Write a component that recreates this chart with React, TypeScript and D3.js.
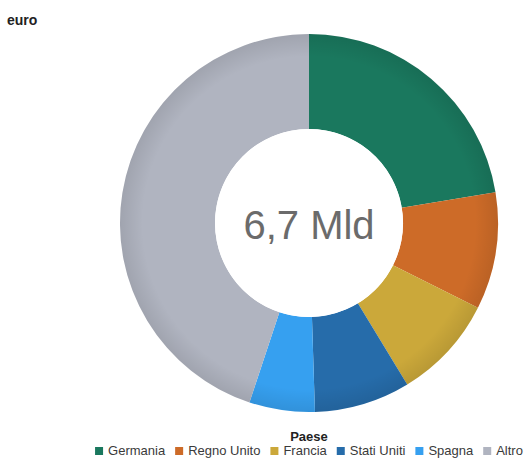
import React from "react";
import * as d3 from "d3";

const categories = ["Germania", "Regno Unito", "Francia", "Stati Uniti", "Spagna", "Altro"];
const values = [22.4, 10.0, 8.9, 8.2, 5.6, 44.9];
const colors = ["#1a785e", "#cd6b28", "#cba83a", "#266caa", "#36a0f0", "#b0b4c0"];
const unitLabel = "euro";
const centerLabel = "6,7 Mld";
const legendTitle = "Paese";

const W = 528;
const H = 458;
const FONT = "Arial, 'Liberation Sans', Helvetica, sans-serif";

function measure(text: string, font: string): number {
  if (typeof document === "undefined") return text.length * 7;
  const c = document.createElement("canvas");
  const ctx = c.getContext("2d");
  if (!ctx) return text.length * 7;
  ctx.font = font;
  return ctx.measureText(text).width;
}

export default function App() {
  const cx = 309;
  const cy = 223;
  const outerR = 189;
  const innerR = 94;

  const pie = d3.pie<number>().sort(null).value((d) => d);
  const arcs = pie(values);
  const arcGen = d3.arc<d3.PieArcDatum<number>>().innerRadius(innerR).outerRadius(outerR);

  const legendFont = `13px ${FONT}`;
  const sq = 8;
  const sqGap = 5;
  const itemGap = 10;
  const widths = categories.map((c) => measure(c, legendFont));
  const total = widths.reduce((a, w) => a + sq + sqGap + w, 0) + itemGap * (categories.length - 1);
  let x0 = cx - total / 2;
  const items = categories.map((c, i) => {
    const x = x0;
    x0 += sq + sqGap + widths[i] + itemGap;
    return { c, x, color: colors[i] };
  });

  return (
    <svg width={W} height={H} style={{ position: "absolute", left: 0, top: 0, background: "#fff" }}>
      <defs>
        <radialGradient id="shade" cx={cx} cy={cy} r={outerR} gradientUnits="userSpaceOnUse">
          <stop offset="0.88" stopColor="#000" stopOpacity={0} />
          <stop offset="1" stopColor="#000" stopOpacity={0.09} />
        </radialGradient>
      </defs>
      <text x={7} y={25} fontFamily={FONT} fontSize={14} fontWeight="bold" fill="#222">
        {unitLabel}
      </text>
      <g transform={`translate(${cx},${cy})`}>
        {arcs.map((a, i) => (
          <path key={i} d={arcGen(a) || ""} fill={colors[i]} />
        ))}
      </g>
      <circle cx={cx} cy={cy} r={outerR} fill="url(#shade)" />
      <circle cx={cx} cy={cy} r={innerR} fill="#fff" />
      <text x={cx} y={239} textAnchor="middle" fontFamily={FONT} fontSize={40} fill="#6b6b6b">
        {centerLabel}
      </text>
      <text x={cx} y={441} textAnchor="middle" fontFamily={FONT} fontSize={13} fontWeight="bold" fill="#222">
        {legendTitle}
      </text>
      {items.map((it, i) => (
        <g key={i}>
          <rect x={it.x} y={447} width={sq} height={sq} fill={it.color} />
          <text x={it.x + sq + sqGap} y={455} fontFamily={FONT} fontSize={13} fill="#3a3a3a">
            {it.c}
          </text>
        </g>
      ))}
    </svg>
  );
}
